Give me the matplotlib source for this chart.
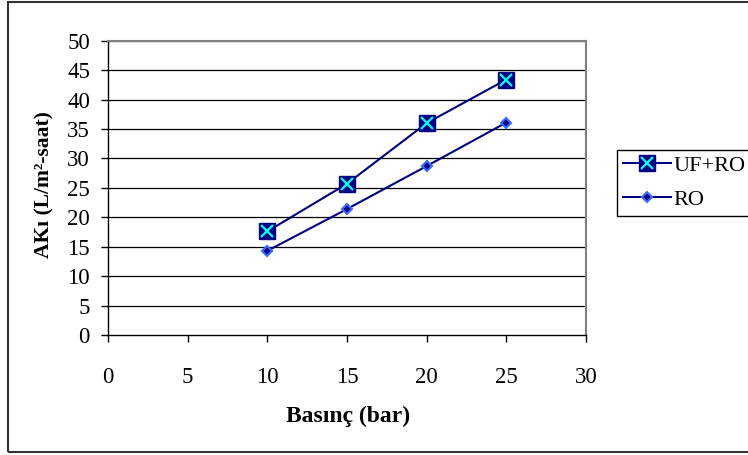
import matplotlib
matplotlib.use('Agg')
import matplotlib.pyplot as plt
from matplotlib.patches import Rectangle
from matplotlib.legend_handler import HandlerTuple

plt.rcParams['font.family'] = ['Liberation Serif', 'DejaVu Serif']

# basınç (bar) ve akı değerleri
basinc = [10, 15, 20, 25]
uf_ro = [17.6, 25.7, 36.0, 43.4]
ro = [14.3, 21.4, 28.7, 36.1]

x_ticks = [0, 5, 10, 15, 20, 25, 30]
y_ticks = [0, 5, 10, 15, 20, 25, 30, 35, 40, 45, 50]

navy = '#000080'

fig = plt.figure(figsize=(7.48, 4.55), dpi=100)
ax = fig.add_axes([108 / 748, 120 / 455, 478 / 748, 294.3 / 455])

# yatay ızgara çizgileri
for yv in y_ticks[1:]:
    ax.axhline(yv, color='black', lw=0.9, zorder=1)

l1, = ax.plot(basinc, uf_ro, color=navy, lw=1.5, marker='s', ms=11,
              mfc=navy, mec=navy, zorder=3)
l1x, = ax.plot(basinc, uf_ro, ls='none', marker='x', ms=8, mew=1.6,
               color='#00FFFF', zorder=4)
l2, = ax.plot(basinc, ro, color=navy, lw=1.5, marker='D', ms=5,
              mfc=navy, mec='#3a6cff', mew=1.5, zorder=3)

ax.set_xlim(0, 30)
ax.set_ylim(0, 50)
ax.set_xticks(x_ticks)
ax.set_yticks(y_ticks)
ax.tick_params(axis='both', direction='out', length=5, width=1, colors='black',
               labelsize=16.5)
ax.tick_params(axis='x', pad=18)
ax.tick_params(axis='y', pad=8)

for s in ['top', 'right']:
    ax.spines[s].set_color('#808080')
    ax.spines[s].set_linewidth(1.5)
for s in ['left', 'bottom']:
    ax.spines[s].set_color('black')
    ax.spines[s].set_linewidth(1)

fig.text(348 / 748, 1 - 416 / 455, 'Basınç (bar)', ha='center', va='center',
         fontsize=17, fontweight='bold')
fig.text(44 / 748, 1 - 185 / 455, 'AKı (L/m²-saat)', ha='center', va='center',
         rotation=90, fontsize=15.5, fontweight='bold')

leg = fig.legend([(l1, l1x), l2], ['UF+RO', 'RO'], loc='upper left',
                 bbox_to_anchor=(617 / 748, 1 - 150 / 455),
                 handler_map={tuple: HandlerTuple(ndivide=1, pad=0)},
                 fontsize=16, frameon=True, fancybox=False, framealpha=1,
                 edgecolor='black', handlelength=2.2, handletextpad=0.1,
                 borderpad=0.3, labelspacing=0.6, borderaxespad=0)
leg.get_frame().set_linewidth(1)
leg._legend_box.sep = 0
leg.borderpad = 0.3
# legend box a bit taller at the top and bottom
leg._legend_box.pad = 4

# dış çerçeve
fig.patches.append(Rectangle((8 / 748, 3 / 455), 0.995, 450 / 455,
                             transform=fig.transFigure, fill=False,
                             edgecolor='#333333', lw=1.5))

fig.savefig('out.png', dpi=100)
